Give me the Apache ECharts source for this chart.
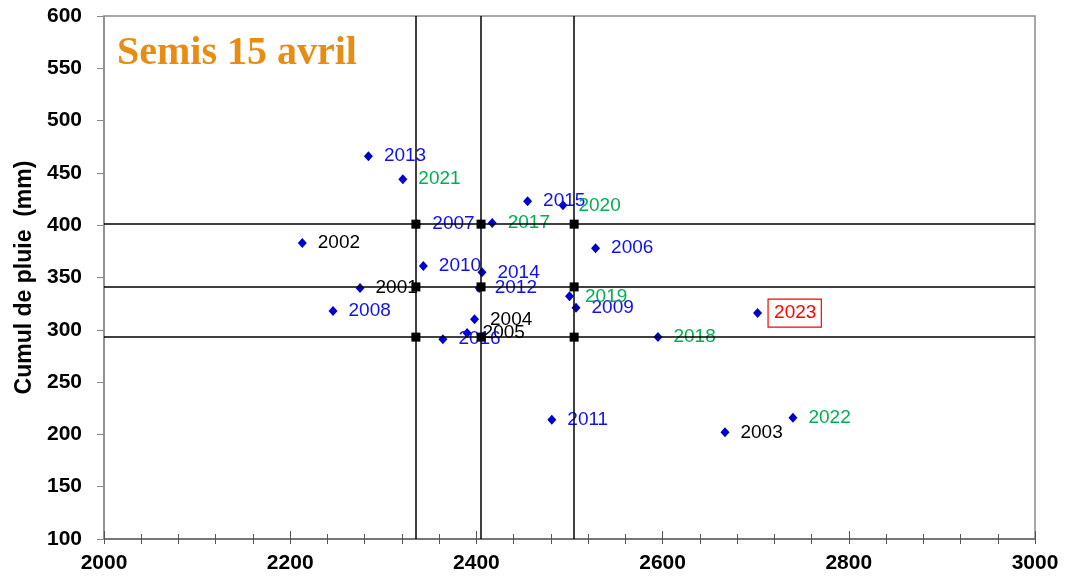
<!DOCTYPE html>
<html>
<head>
<meta charset="utf-8">
<script src="https://cdn.jsdelivr.net/npm/echarts@6/dist/echarts.min.js"></script>
<style>
html,body{margin:0;padding:0;background:#fff;}
#chart{width:1072px;height:585px;}
</style>
</head>
<body>
<div id="chart"></div>
<script>
// Data
const years = [2001,2002,2003,2004,2005,2006,2007,2008,2009,2010,2011,2012,2013,2014,2015,2016,2017,2018,2019,2020,2021,2022,2023];
const sumTemp = [2275,2213,2667,2398,2390,2528,2336,2246,2507,2343,2481,2403,2284,2406,2455,2364,2417,2595,2500,2493,2321,2740,2702];
const rain = [340,383,202,310,297,378,401,318,321,361,214,340,466,355,423,291,402,293,332,419,444,216,316];
const xThresholds = [2335,2405,2505];
const yThresholds = [401,341,293];
const xTicks = [2000,2200,2400,2600,2800,3000];
const yTicks = [100,150,200,250,300,350,400,450,500,550,600];

const FONT = 'Liberation Sans, Arial, sans-serif';

function labelColor(y){
  if (y <= 2005) return '#000000';
  if (y <= 2016) return '#1010F0';
  if (y <= 2022) return '#00B050';
  return '#FF0000';
}

const points = years.map((y,i) => {
  const item = {
    value: [sumTemp[i], rain[i]],
    name: String(y),
    label: { color: labelColor(y) }
  };
  if (y === 2023) {
    item.label = {
      color: '#FF0000',
      borderColor: '#FF0000',
      borderWidth: 1.2,
      padding: [5,5,4,6],
      distance: 6
    };
  }
  return item;
});

const squares = [];
xThresholds.forEach(x => yThresholds.forEach(y => squares.push([x,y])));

const chart = echarts.init(document.getElementById('chart'), null, {renderer:'canvas'});
chart.setOption({
  animation: false,
  backgroundColor: '#ffffff',
  title: {
    text: 'Semis 15 avril',
    left: 117,
    top: 34,
    padding: 0,
    textStyle: {
      fontFamily: 'Liberation Serif, Times New Roman, serif',
      fontWeight: 'bold',
      fontSize: 40,
      lineHeight: 40,
      color: '#E88C14'
    }
  },
  grid: {
    left: 104, right: 37, top: 16, bottom: 46,
    show: true, borderColor: '#8c8c8c', borderWidth: 1.5, backgroundColor: 'transparent'
  },
  xAxis: [
    {
      type: 'value', min: 2000, max: 3000, interval: 40, position: 'bottom',
      axisLine: { show: true, onZero: false, lineStyle: { color: '#666', width: 1.5 } },
      axisTick: { show: true, inside: false, length: 5, lineStyle: { color: '#555', width: 1 } },
      axisLabel: {
        margin: 14,
        fontFamily: FONT, fontWeight: 'bold', fontSize: 21, color: '#000',
        formatter: v => xTicks.indexOf(v) >= 0 ? String(v) : ''
      },
      splitLine: { show: false }
    },
    {
      type: 'value', min: 2000, max: 3000, interval: 40, position: 'bottom', gridIndex: 0,
      axisLine: { show: false, onZero: false },
      axisTick: { show: true, inside: true, length: 5, lineStyle: { color: '#555', width: 1 } },
      axisLabel: { show: false },
      splitLine: { show: false }
    },
    {
      type: 'value', min: 2000, max: 3000, interval: 200, position: 'bottom', gridIndex: 0,
      axisLine: { show: false, onZero: false },
      axisTick: { show: true, inside: true, length: 8, lineStyle: { color: '#555', width: 1 } },
      axisLabel: { show: false },
      splitLine: { show: false }
    }
  ],
  yAxis: {
    type: 'value', min: yTicks[0], max: yTicks[yTicks.length-1], interval: 50,
    name: 'Cumul de pluie  (mm)',
    nameLocation: 'middle',
    nameGap: 68,
    nameTextStyle: { fontFamily: FONT, fontWeight: 'bold', fontSize: 23, color: '#000' },
    axisLine: { show: true, onZero: false, lineStyle: { color: '#8c8c8c', width: 1.5 } },
    axisTick: { show: true, inside: false, length: 7, lineStyle: { color: '#8c8c8c', width: 1 } },
    axisLabel: { margin: 22, fontFamily: FONT, fontWeight: 'bold', fontSize: 21, color: '#000' },
    splitLine: { show: false }
  },
  series: [
    {
      type: 'scatter',
      xAxisIndex: 0,
      symbol: 'diamond',
      symbolSize: [9, 10],
      itemStyle: { color: '#0000CC', opacity: 1 },
      z: 2,
      label: {
        show: true, position: 'right', distance: 11,
        formatter: p => p.name,
        fontFamily: FONT, fontSize: 19, opacity: 1
      },
      emphasis: { disabled: true },
      data: points
    },
    {
      type: 'scatter',
      xAxisIndex: 0,
      symbol: 'rect',
      symbolSize: 9,
      itemStyle: { color: '#000', opacity: 1 },
      z: 6,
      silent: true,
      data: squares,
      markLine: {
        silent: true,
        symbol: 'none',
        z: 5,
        label: { show: false },
        lineStyle: { color: '#000', width: 1.5, type: 'solid', opacity: 1 },
        emphasis: { disabled: true },
        data: xThresholds.map(v => ({ xAxis: v })).concat(yThresholds.map(v => ({ yAxis: v })))
      }
    }
  ]
});
</script>
</body>
</html>
